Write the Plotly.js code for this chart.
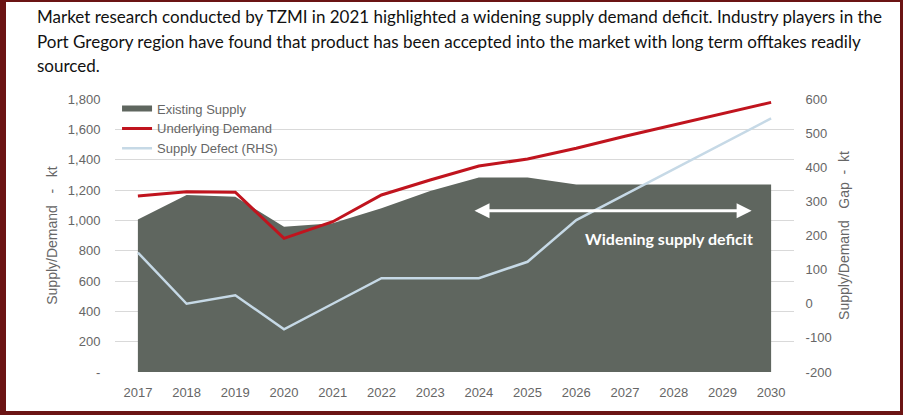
<!DOCTYPE html>
<html><head><meta charset="utf-8">
<script src="https://cdn.plot.ly/plotly-3.0.1.min.js"></script>
<style>
html,body{margin:0;padding:0;background:#6b1414;width:903px;height:415px;overflow:hidden}
#chart{position:absolute;left:6px;top:2px;width:894px;height:409px;background:#fff}
</style></head><body><div id="chart"></div>
<script>
const years = [2017,2018,2019,2020,2021,2022,2023,2024,2025,2026,2027,2028,2029,2030];
const existingSupply = [1005,1167,1156,958,980,1079,1193,1283,1283,1237,1237,1237,1237,1237];
const underlyingDemand = [1160,1189,1185,881,991,1167,1266,1358,1404,1475,1554,1630,1703,1778];
const supplyDeficit = [150,0,25,-75,0,75,75,75,123,245,320,395,470,543];
const leftTickVals = [0,200,400,600,800,1000,1200,1400,1600,1800];
const leftTickText = ['-','200','400','600','800','1,000','1,200','1,400','1,600','1,800'];
const rightTickVals = [-200,-100,0,100,200,300,400,500,600];
const rightTickText = ['-200','-100','0','100','200','300','400','500','600'];
const seriesNames = ['Existing Supply','Underlying Demand','Supply Defect (RHS)'];
const titleLines = [
  'Market research conducted by TZMI in 2021 highlighted a widening supply demand deficit. Industry players in the',
  'Port Gregory region have found that product has been accepted into the market with long term offtakes readily',
  'sourced.'
];
const arrowLabel = 'Widening supply deficit';
const leftAxisTitle = 'Supply/Demand\u00a0\u00a0\u00a0-\u00a0\u00a0\u00a0kt';
const rightAxisTitle = 'Supply/Demand\u00a0\u00a0\u00a0Gap\u00a0\u00a0-\u00a0\u00a0kt';

const tickFont = {family:'Liberation Sans, Arial, sans-serif', size:13, color:'#666666'};
const axisTitleFont = {family:'Liberation Sans, Arial, sans-serif', size:14, color:'#666666'};

const traces = [
  {x:years, y:existingSupply, name:seriesNames[0], type:'scatter', mode:'none',
   fill:'tozeroy', fillcolor:'#5f665f', hoverinfo:'skip'},
  {x:years, y:underlyingDemand, name:seriesNames[1], type:'scatter', mode:'lines',
   line:{color:'#c0141e', width:3}, hoverinfo:'skip'},
  {x:years, y:supplyDeficit, name:seriesNames[2], type:'scatter', mode:'lines', yaxis:'y2',
   line:{color:'#c6d9e6', width:2.5}, hoverinfo:'skip'}
];

const titleYs = [1.3004, 1.2088, 1.1209];
const annotations = titleLines.map((t,i)=>({
  text:t, xref:'paper', yref:'paper', x:-0.1178, y:titleYs[i], xanchor:'left', yanchor:'middle',
  showarrow:false, font:{family:'Lato, sans-serif', size:17, color:'#111111'}
}));
annotations.push({
  x:2029.6, y:1063, ax:2023.88, ay:1063, xref:'x', yref:'y', axref:'x', ayref:'y',
  text:'', showarrow:true, arrowside:'end+start', arrowhead:2, arrowsize:1, arrowwidth:3, arrowcolor:'#ffffff'
});
annotations.push({
  x:2027.9, y:877, xref:'x', yref:'y', text:arrowLabel, showarrow:false,
  font:{family:'Lato, sans-serif', size:16, weight:'bold', color:'#ffffff'}
});

const layout = {
  width:894, height:409,
  margin:{l:109, r:106, t:97, b:39},
  paper_bgcolor:'#ffffff', plot_bgcolor:'#ffffff',
  showlegend:true,
  legend:{x:0.003, y:1.02, xanchor:'left', yanchor:'top', bgcolor:'rgba(0,0,0,0)',
          font:{family:'Liberation Sans, Arial, sans-serif', size:13, color:'#666666'},
          itemwidth:30, tracegroupgap:0},
  xaxis:{range:[2016.53,2030.47], tickvals:years, ticktext:years.map(String), showgrid:false, zeroline:false,
         showline:false, ticks:'outside', ticklen:8, tickcolor:'rgba(0,0,0,0)', tickfont:tickFont, fixedrange:true},
  yaxis:{range:[0,1800], tickvals:leftTickVals, ticktext:leftTickText, showgrid:true, gridcolor:'#d9d9d9', gridwidth:1,
         zeroline:false, showline:false, ticks:'outside', ticklen:11, tickcolor:'rgba(0,0,0,0)', tickfont:tickFont,
         title:{text:leftAxisTitle, font:axisTitleFont, standoff:6},
         fixedrange:true},
  yaxis2:{range:[-200,600], overlaying:'y', side:'right', tickvals:rightTickVals, ticktext:rightTickText, showgrid:false,
          zeroline:false, showline:false, ticks:'outside', ticklen:8, tickcolor:'rgba(0,0,0,0)', tickfont:tickFont,
          title:{text:rightAxisTitle, font:axisTitleFont, standoff:8},
          fixedrange:true},
  annotations:annotations
};

Plotly.newPlot('chart', traces, layout, {displayModeBar:false, staticPlot:true});
</script></body></html>
